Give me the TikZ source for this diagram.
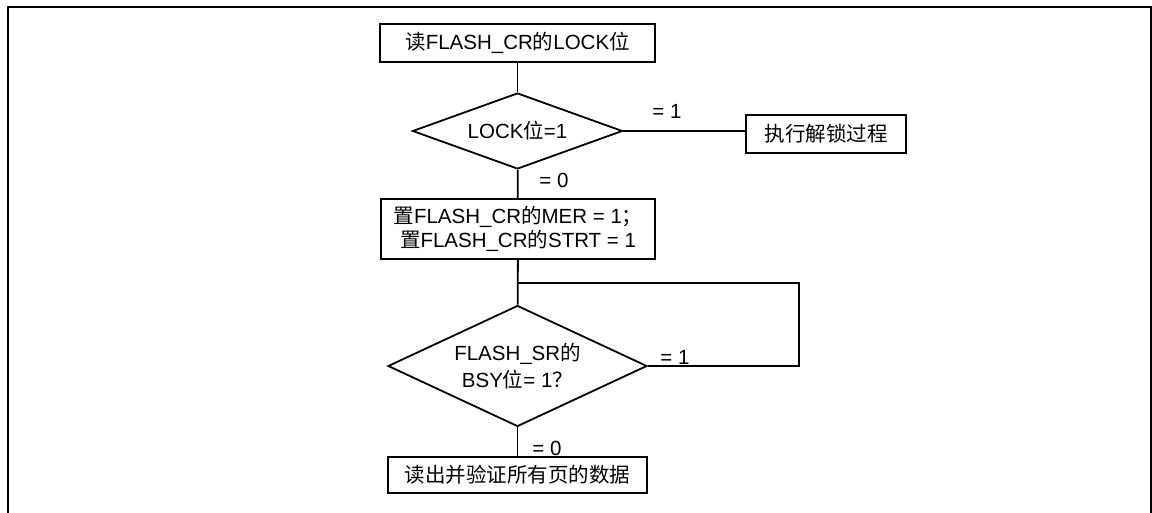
\documentclass[tikz,border=0pt]{standalone}
\usepackage{fontspec}
\setmainfont{Liberation Sans}
\newfontfamily\cjk{Noto Sans CJK SC}
\newcommand\zh[1]{{\cjk #1}}
\usetikzlibrary{shapes.geometric}
\begin{document}
\begin{tikzpicture}[x=1pt,y=-1pt,
  every node/.style={font=\fontsize{20.5}{24}\selectfont},
  flowbox/.style={draw,line width=1.8pt,rectangle,inner sep=0pt,align=center},
  decide/.style={draw,line width=1.8pt,diamond,inner sep=0pt,align=center},
  conn/.style={line width=1.8pt},
  lbl/.style={inner sep=0pt}]
\useasboundingbox (0,0) rectangle (1152,513);
\fill[white] (0,0) rectangle (1152,513);
\draw[line width=2pt] (7.5,513) -- (7.5,7.5) -- (1150.5,7.5) -- (1150.5,513);

\node[flowbox,minimum width=275pt,minimum height=38pt] (b1) at (517.5,43) {\zh{读}FLASH\_CR\zh{的}LOCK\zh{位}};
\node[decide,shape aspect=2.76,minimum width=210pt,minimum height=76pt] (d1) at (517.5,131) {LOCK\zh{位}=1};
\node[flowbox,minimum width=160pt,minimum height=38pt] (u) at (826,134) {\zh{执行解锁过程}};
\node[flowbox,minimum width=274pt,minimum height=60pt] (b2) at (518,229) {\zh{置}FLASH\_CR\zh{的}MER = 1\zh{；}\\ \zh{置}FLASH\_CR\zh{的}STRT = 1};
\node[decide,shape aspect=2.14,minimum width=259pt,minimum height=121pt] (d2) at (517.5,366) {FLASH\_SR\zh{的}\\[3pt]BSY\zh{位}= 1\zh{？}};
\node[flowbox,minimum width=259pt,minimum height=36pt] (b3) at (517.5,475) {\zh{读出并验证所有页的数据}};

\coordinate (lp1) at (799,366);
\coordinate (lp2) at (799,283);
\coordinate (lp3) at (517.5,283);

\draw[conn] (b1) -- (d1);
\draw[conn] (d1.east) -- (d1.east -| u.west);
\draw[conn] (d1) -- (b2);
\draw[conn] (b2) -- (d2);
\draw[conn] (d2.east) -- (lp1) -- (lp2) -- (lp3);
\draw[conn] (d2) -- (b3);

\node[lbl] (l1) at (667,111) {= 1};
\node[lbl] (l2) at (554,180) {= 0};
\node[lbl] (l3) at (675,357) {= 1};
\node[lbl] (l4) at (547,448) {= 0};
\end{tikzpicture}
\end{document}
